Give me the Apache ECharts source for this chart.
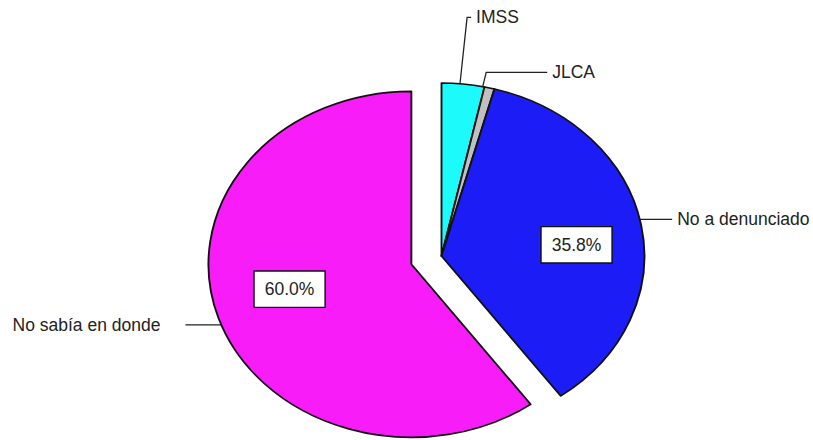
<!DOCTYPE html>
<html>
<head>
<meta charset="utf-8">
<script src="https://cdn.jsdelivr.net/npm/echarts@6/dist/echarts.min.js"></script>
<style>
  html, body { margin: 0; padding: 0; background: #fff; overflow: hidden; }
  .layer { position: absolute; left: 0; top: 0; width: 813px; height: 440px; }
  /* the source pie is an ellipse, wider than tall */
  #pie { transform: scaleX(1.173); transform-origin: 441.5px 256px; }
</style>
</head>
<body>
<div id="outer" class="layer"></div>
<div id="pie" class="layer"></div>
<div id="inner" class="layer"></div>
<script>
const categories = ['IMSS', 'JLCA', 'No a denunciado', 'No sabía en donde']
const values = [3.4, 0.8, 35.8, 60.0]
const exploded = 'No sabía en donde'
const boxedLabels = ['No a denunciado', 'No sabía en donde']

const sliceColors = ['#1cfafc', '#c0c0c0', '#1c1cf6', '#f81cf8']
const CENTER = [441.5, 256]
const R = 173
const font = { fontFamily: 'Liberation Sans, Arial, sans-serif', fontSize: 17.5, color: '#222' }

// leader lines: radial length, horizontal length, gap to text
const leaders = {
  'IMSS': [67, 4, 5],
  'JLCA': [16, 61, 5],
  'No a denunciado': [29, 32, 5],
  'No sabía en donde': [50, 44, 25]
}

const init = (id) => echarts.init(document.getElementById(id), null, { renderer: 'svg' })
const clear = 'rgba(0,0,0,0)'

// bottom layer: outside names + leader lines (the part inside the ellipse is hidden by the pie)
init('outer').setOption({
  animation: false,
  series: [{
    type: 'pie',
    center: CENTER,
    radius: R,
    startAngle: 90,
    avoidLabelOverlap: false,
    silent: true,
    itemStyle: { color: clear, borderWidth: 0 },
    label: { ...font, position: 'outside', formatter: '{b}' },
    labelLine: { show: true, lineStyle: { color: '#222', width: 1.3 } },
    data: categories.map((name, i) => ({
      name,
      value: values[i],
      label: { distanceToLabelLine: leaders[name][2] },
      labelLine: { length: leaders[name][0], length2: leaders[name][1] }
    }))
  }]
})

// middle layer: the slices
init('pie').setOption({
  animation: false,
  series: [{
    type: 'pie',
    center: CENTER,
    radius: R,
    startAngle: 90,
    silent: true,
    selectedMode: 'single',
    selectedOffset: 27,
    label: { show: false },
    labelLine: { show: false },
    itemStyle: { borderColor: '#111', borderWidth: 1.6 },
    select: { itemStyle: { borderColor: '#111', borderWidth: 1.6 } },
    emphasis: { disabled: true },
    data: categories.map((name, i) => ({
      name,
      value: values[i],
      selected: name === exploded,
      itemStyle: { color: sliceColors[i] }
    }))
  }]
})

// top layer: boxed percentages; the source sets them a little clockwise of each slice middle
init('inner').setOption({
  animation: false,
  series: [{
    type: 'pie',
    center: CENTER,
    radius: [0, 265],
    startAngle: 84.3,
    silent: true,
    selectedMode: 'single',
    selectedOffset: 20,
    itemStyle: { color: clear, borderWidth: 0 },
    select: { itemStyle: { color: clear, borderWidth: 0 } },
    emphasis: { disabled: true },
    labelLine: { show: false },
    label: {
      show: false,
      position: 'inside',
      ...font,
      lineHeight: 19,
      backgroundColor: '#fff',
      borderColor: '#111',
      borderWidth: 1.4,
      padding: [8, 10],
      formatter: (p) => p.value.toFixed(1) + '%'
    },
    data: categories.map((name, i) => ({
      name,
      value: values[i],
      selected: name === exploded,
      label: { show: boxedLabels.includes(name) }
    }))
  }]
})
</script>
</body>
</html>
